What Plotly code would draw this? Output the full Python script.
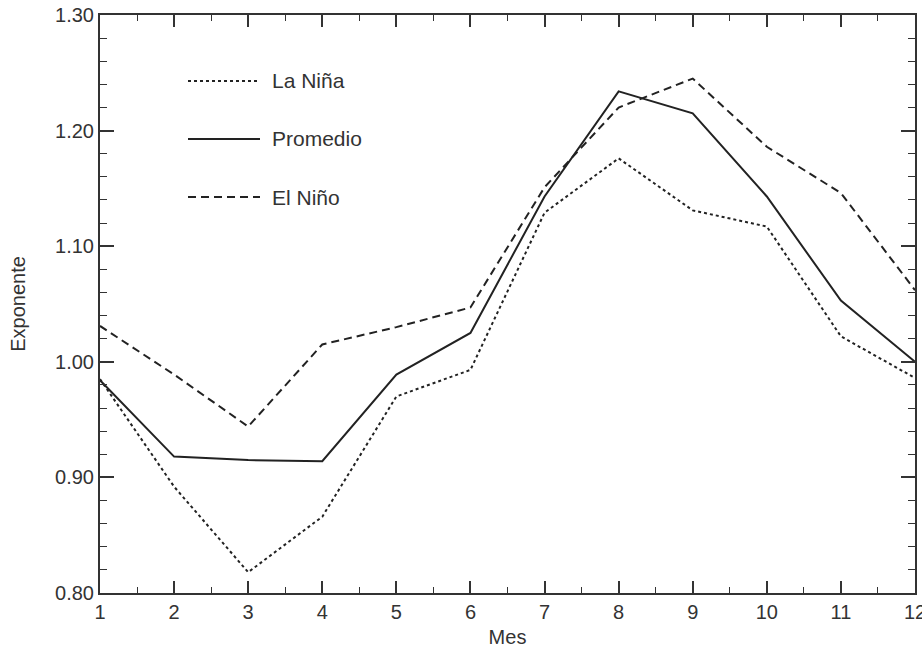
import plotly.graph_objects as go

months = [1, 2, 3, 4, 5, 6, 7, 8, 9, 10, 11, 12]
la_nina = [0.985, 0.892, 0.818, 0.866, 0.970, 0.993, 1.129, 1.176, 1.131, 1.117, 1.022, 0.986]
promedio = [0.984, 0.918, 0.915, 0.914, 0.989, 1.025, 1.143, 1.234, 1.215, 1.143, 1.053, 1.000]
el_nino = [1.031, 0.989, 0.944, 1.015, 1.030, 1.047, 1.151, 1.220, 1.245, 1.186, 1.146, 1.062]
series_names = ["La Niña", "Promedio", "El Niño"]
y_ticks = [0.80, 0.90, 1.00, 1.10, 1.20, 1.30]

ink = "#222222"
styles = ["dot", "solid", "8px,5px"]

fig = go.Figure()
for name, vals, dash in zip(series_names, [la_nina, promedio, el_nino], styles):
    fig.add_trace(go.Scatter(x=months, y=vals, mode="lines", name=name,
                             line=dict(color=ink, width=2, dash=dash),
                             showlegend=False, cliponaxis=False))

# legend drawn as decoration (paper coords)
W, H = 815.0, 578.0
def px(xp):
    return (xp - 100) / W
def py(yp):
    return (593 - yp) / H

leg_y = [81, 139, 197]
for name, dash, yy in zip(series_names, styles, leg_y):
    fig.add_shape(type="line", xref="paper", yref="paper",
                  x0=px(188), x1=px(260), y0=py(yy), y1=py(yy),
                  line=dict(color=ink, width=2, dash=dash))
    fig.add_annotation(xref="paper", yref="paper", x=px(270), y=py(yy),
                       text=name, showarrow=False, xanchor="left", yanchor="middle",
                       font=dict(size=21, color="#333333"))

axis_common = dict(showline=True, linecolor="#333333", linewidth=2, mirror="allticks",
                   ticks="inside", tickcolor="#333333", showgrid=False, zeroline=False,
                   automargin=False, tickfont=dict(size=20, color="#333333"))

fig.update_xaxes(range=[1, 12], tickvals=months, ticklen=12, tickwidth=1.5,
                 ticklabeloverflow="allow",
                 minor=dict(dtick=0.5, ticklen=6, tickwidth=1, ticks="inside", tickcolor="#333333"),
                 title=dict(text="Mes", font=dict(size=20, color="#333333"), standoff=8),
                 **axis_common)
fig.update_yaxes(range=[0.80, 1.30], tickvals=y_ticks, tickformat=".2f", ticklen=14, tickwidth=1.5,
                 ticklabeloverflow="allow",
                 minor=dict(dtick=0.02, ticklen=7, tickwidth=1, ticks="inside", tickcolor="#333333"),
                 title=dict(text="Exponente", font=dict(size=20, color="#333333"), standoff=24),
                 **axis_common)

fig.update_layout(width=922, height=649, margin=dict(l=100, r=7, t=15, b=56),
                  plot_bgcolor="white", paper_bgcolor="white",
                  font=dict(family="Liberation Sans, Arial, sans-serif", color="#333333"))

fig.write_html("out.html", config={"displayModeBar": False},
               post_script="document.body.style.margin='0';document.body.style.overflow='hidden';")
